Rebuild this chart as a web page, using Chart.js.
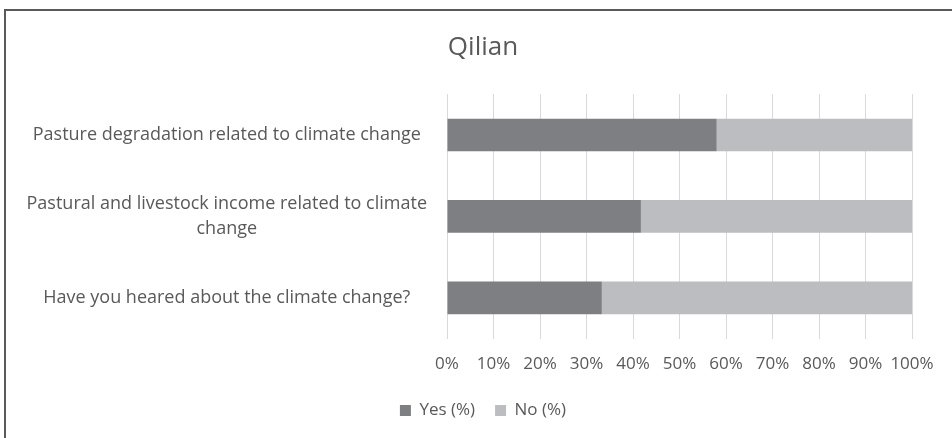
<!DOCTYPE html>
<html>
<head>
<meta charset="utf-8">
<script src="https://cdn.jsdelivr.net/npm/chart.js@4"></script>
<style>
  html, body { margin: 0; padding: 0; background: #ffffff; }
  #wrap { position: relative; width: 952px; height: 438px; overflow: hidden; }
  #frame { position: absolute; left: 4px; top: 9px; width: 1000px; height: 600px;
           border-top: 2px solid #595959; border-left: 2px solid #595959; pointer-events: none; }
  canvas { position: absolute; left: 0; top: 0; }
</style>
</head>
<body>
<div id="wrap">
  <canvas id="c" width="952" height="438"></canvas>
  <div id="frame"></div>
</div>
<script>
const chartTitle = "Qilian";
const categories = [
  "Pasture degradation related to climate change",
  ["Pastural and livestock income related to climate", "change"],
  "Have you heared about the climate change?"
];
const yesValues = [58, 41.7, 33.3];
const noValues = [42, 58.3, 66.7];
const seriesNames = ["Yes (%)", "No (%)"];
const xTicks = [0, 10, 20, 30, 40, 50, 60, 70, 80, 90, 100];

const FONT = "'Open Sans', sans-serif";
const TXT = "#595959";

new Chart(document.getElementById("c"), {
  type: "bar",
  data: {
    labels: categories,
    datasets: [
      { label: seriesNames[0], data: yesValues, backgroundColor: "#7e7f83", borderWidth: 0,
        barPercentage: 0.4, categoryPercentage: 1.0 },
      { label: seriesNames[1], data: noValues, backgroundColor: "#bcbdc0", borderWidth: 0,
        barPercentage: 0.4, categoryPercentage: 1.0 }
    ]
  },
  options: {
    indexAxis: "y",
    responsive: false,
    animation: false,
    devicePixelRatio: 1,
    layout: { padding: { left: 14, right: 0, top: 0, bottom: 9 } },
    plugins: {
      title: {
        display: true, text: chartTitle, color: TXT,
        font: { family: FONT, size: 26, weight: "normal" },
        padding: { top: 32, bottom: 31 }
      },
      legend: {
        position: "bottom",
        labels: { color: TXT, font: { family: FONT, size: 17 }, boxWidth: 11, boxHeight: 11, padding: 20 }
      },
      tooltip: { enabled: false }
    },
    scales: {
      x: {
        stacked: true, min: 0, max: 100,
        afterBuildTicks: (s) => { s.ticks = xTicks.map(v => ({ value: v })); },
        afterFit: (s) => { s.paddingRight = 40; s.paddingLeft = 0; s.height = s.height - 7; },
        ticks: { color: TXT, font: { family: FONT, size: 17 }, padding: 15, callback: (v) => v + "%" },
        grid: { color: "#d9d9d9", lineWidth: 1, drawTicks: false },
        border: { display: false }
      },
      y: {
        stacked: true,
        afterFit: (s) => { s.width = 433; },
        ticks: { color: TXT, font: { family: FONT, size: 18, lineHeight: "25px" }, padding: 20, crossAlign: "center" },
        grid: { display: false, drawTicks: false },
        border: { display: false }
      }
    }
  }
});
</script>
</body>
</html>
